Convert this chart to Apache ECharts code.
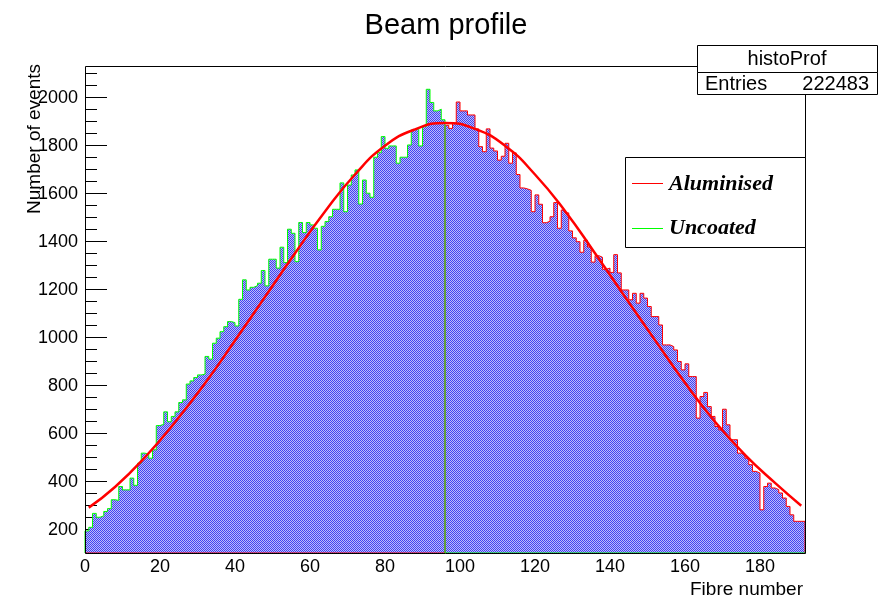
<!DOCTYPE html>
<html>
<head>
<meta charset="utf-8">
<script src="https://cdn.jsdelivr.net/npm/echarts@6.0.0/dist/echarts.min.js"></script>
<style>
  html, body { margin: 0; padding: 0; background: #fff; }
  #chart { width: 892px; height: 597px; }
</style>
</head>
<body>
<div id="chart"></div>
<script>
// ---- Data ----
// Uncoated fibres: bins 0..95
const uncoated = [
  195, 210, 268, 252, 258, 276, 288, 325, 322, 380,
  366, 366, 415, 385, 477, 519, 514, 498, 533, 634,
  639, 691, 650, 672, 691, 730, 741, 807, 820, 834,
  845, 848, 922, 911, 977, 998, 1025, 1046, 1067, 1063,
  1049, 1160, 1241, 1199, 1210, 1217, 1227, 1280, 1216, 1327,
  1327, 1290, 1377, 1313, 1452, 1435, 1317, 1480, 1438, 1480,
  1470, 1456, 1366, 1464, 1484, 1504, 1535, 1535, 1645, 1525,
  1636, 1678, 1699, 1557, 1657, 1602, 1585, 1752, 1771, 1838,
  1789, 1799, 1799, 1727, 1752, 1752, 1803, 1865, 1872, 1799,
  1879, 2035, 1980, 1945, 1952, 1908
];
// Aluminised fibres: bins 96..191
const aluminised = [
  1885, 1872, 1893, 1982, 1945, 1945, 1928, 1928, 1870, 1796,
  1775, 1870, 1790, 1778, 1740, 1756, 1810, 1727, 1770, 1680,
  1624, 1620, 1614, 1525, 1595, 1556, 1479, 1485, 1504, 1563,
  1456, 1532, 1520, 1445, 1416, 1400, 1356, 1406, 1378, 1315,
  1342, 1335, 1285, 1290, 1272, 1346, 1270, 1199, 1199, 1158,
  1185, 1144, 1185, 1165, 1130, 1088, 1088, 1053, 970, 970,
  963, 949, 901, 866, 891, 838, 838, 665, 755, 772,
  713, 672, 630, 616, 702, 637, 575, 575, 519, 512,
  498, 471, 443, 436, 283, 380, 394, 374, 367, 353,
  332, 297, 262, 235, 235, 235
];
// Fit curve (read at selected fibre numbers)
const fitX = [1, 8, 16, 24, 32, 40, 48, 56, 64, 72, 80, 88, 96, 104, 112, 120, 128, 136, 144, 152, 160, 168, 176, 184, 191];
const fitY = [292, 378, 502, 648, 810, 988, 1170, 1352, 1526, 1680, 1800, 1868, 1895, 1870, 1800, 1680, 1528, 1352, 1170, 990, 812, 650, 512, 395, 300];

const xLabelValues = [0, 20, 40, 60, 80, 100, 120, 140, 160, 180];
const xMinorValues = [5, 10, 15, 25, 30, 35, 45, 50, 55, 65, 70, 75, 85, 90, 95, 105, 110, 115, 125, 130, 135, 145, 150, 155, 165, 170, 175, 185, 190];
const yLabelValues = [200, 400, 600, 800, 1000, 1200, 1400, 1600, 1800, 2000];
const yMinorValues = [150, 250, 300, 350, 450, 500, 550, 650, 700, 750, 850, 900, 950, 1050, 1100, 1150, 1250, 1300, 1350, 1450, 1500, 1550, 1650, 1700, 1750, 1850, 1900, 1950, 2050, 2100];
const entries = '222483';

// ---- Axis ranges ----
const X_MIN = 0, X_MAX = 192;
const Y_MIN = 103, Y_MAX = 2132;

const counts = uncoated.concat(aluminised);
const nU = uncoated.length;

const fillData = counts.map((v, i) => [i, v]);
fillData.push([counts.length, counts[counts.length - 1]]);

const greenData = [[0, Y_MIN]];
const redData = [[0, Y_MIN]];
for (let i = 0; i < counts.length; i++) {
  greenData.push([i, i < nU ? uncoated[i] : Y_MIN]);
  redData.push([i, i >= nU ? aluminised[i - nU] : Y_MIN]);
}
greenData.push([counts.length, Y_MIN]);
redData.push([counts.length, aluminised[aluminised.length - 1]]);
redData.push([counts.length, Y_MIN]);

const fitData = fitX.map((x, i) => [x, fitY[i]]);

// hatch pattern like ROOT fill style
const pat = document.createElement('canvas');
pat.width = 2; pat.height = 2;
const pctx = pat.getContext('2d');
pctx.fillStyle = '#4040f4'; pctx.fillRect(0, 0, 2, 2);
pctx.fillStyle = '#bcbcf8'; pctx.fillRect(1, 0, 1, 1); pctx.fillRect(0, 1, 1, 1);

const FONT = '"Liberation Sans", Arial, Helvetica, sans-serif';
const SERIF = '"Liberation Serif", "Times New Roman", serif';
const GL = 85, GT = 66, GW = 720, GH = 487;

const chart = echarts.init(document.getElementById('chart'), null, { renderer: 'canvas' });
chart.setOption({
  animation: false,
  backgroundColor: '#fff',
  textStyle: { fontFamily: FONT, color: '#000' },
  title: {
    text: 'Beam profile', left: 'center', top: 6,
    textStyle: { fontFamily: FONT, fontSize: 29, fontWeight: 'normal', color: '#000' }
  },
  grid: { left: GL, top: GT, width: GW, height: GH, show: false },
  xAxis: [{
    type: 'value', min: X_MIN, max: X_MAX,
    axisLine: { show: false },
    splitLine: { show: false },
    axisTick: { show: true, inside: true, length: 14, customValues: xLabelValues, lineStyle: { color: '#000', width: 1 } },
    axisLabel: { show: true, customValues: xLabelValues, fontSize: 18, color: '#000', fontFamily: FONT, margin: 5, formatter: v => String(v) }
  }, {
    type: 'value', min: X_MIN, max: X_MAX, position: 'bottom',
    axisLine: { show: false }, splitLine: { show: false },
    axisTick: { show: true, inside: true, length: 7, customValues: xMinorValues, lineStyle: { color: '#000', width: 1 } },
    axisLabel: { show: false }
  }],
  yAxis: [{
    type: 'value', min: Y_MIN, max: Y_MAX,
    axisLine: { show: false },
    splitLine: { show: false },
    axisTick: { show: true, inside: true, length: 22, customValues: yLabelValues, lineStyle: { color: '#000', width: 1 } },
    axisLabel: { show: true, customValues: yLabelValues, fontSize: 18, color: '#000', fontFamily: FONT, margin: 7, formatter: v => String(v) }
  }, {
    type: 'value', min: Y_MIN, max: Y_MAX, position: 'left',
    axisLine: { show: false }, splitLine: { show: false },
    axisTick: { show: true, inside: true, length: 12, customValues: yMinorValues, lineStyle: { color: '#000', width: 1 } },
    axisLabel: { show: false }
  }],
  series: [{
    name: 'histoProf', type: 'line', step: 'end', data: fillData,
    showSymbol: false, symbol: 'none', silent: true,
    lineStyle: { width: 0, opacity: 0 },
    areaStyle: { color: { image: pat, repeat: 'repeat' }, opacity: 1, origin: 'start' },
    z: 1
  }, {
    name: 'Aluminised', type: 'line', step: 'end', data: redData,
    showSymbol: false, symbol: 'none', silent: true,
    lineStyle: { color: '#ff0000', width: 1 }, itemStyle: { color: '#ff0000' },
    z: 3
  }, {
    name: 'Uncoated', type: 'line', step: 'end', data: greenData,
    showSymbol: false, symbol: 'none', silent: true,
    lineStyle: { color: '#00ff00', width: 1 }, itemStyle: { color: '#00ff00' },
    z: 4
  }, {
    name: 'fit', type: 'line', smooth: true, data: fitData,
    showSymbol: false, symbol: 'none', silent: true,
    lineStyle: { color: '#ff0000', width: 2.5 },
    z: 5
  }],
  graphic: [
    // frame
    { type: 'rect', z: 50, silent: true, shape: { x: GL + 0.5, y: GT + 0.5, width: GW, height: GH },
      style: { fill: 'none', stroke: '#000', lineWidth: 1 } },
    // axis titles
    { type: 'text', z: 60, x: 803, y: 590, style: { text: 'Fibre number', font: '19px ' + FONT, fill: '#000', align: 'right', verticalAlign: 'middle' } },
    { type: 'text', z: 60, x: 35, y: 64, rotation: Math.PI / 2,
      style: { text: 'Number of events', font: '19px ' + FONT, fill: '#000', align: 'right', verticalAlign: 'middle' } },
    // stats box
    { type: 'rect', z: 70, silent: true, shape: { x: 697.5, y: 45.5, width: 180, height: 27 }, style: { fill: '#fff', stroke: '#000', lineWidth: 1 } },
    { type: 'rect', z: 70, silent: true, shape: { x: 697.5, y: 72.5, width: 180, height: 22 }, style: { fill: '#fff', stroke: '#000', lineWidth: 1 } },
    { type: 'text', z: 71, x: 787, y: 59, style: { text: 'histoProf', font: '20px ' + FONT, fill: '#000', align: 'center', verticalAlign: 'middle' } },
    { type: 'text', z: 71, x: 705, y: 84, style: { text: 'Entries', font: '20px ' + FONT, fill: '#000', align: 'left', verticalAlign: 'middle' } },
    { type: 'text', z: 71, x: 869, y: 84, style: { text: entries, font: '20px ' + FONT, fill: '#000', align: 'right', verticalAlign: 'middle' } },
    // legend box
    { type: 'rect', z: 70, silent: true, shape: { x: 625.5, y: 157.5, width: 180, height: 90 }, style: { fill: '#fff', stroke: '#000', lineWidth: 1 } },
    { type: 'line', z: 71, silent: true, shape: { x1: 632, y1: 183.5, x2: 663, y2: 183.5 }, style: { stroke: '#ff0000', lineWidth: 1 } },
    { type: 'line', z: 71, silent: true, shape: { x1: 632, y1: 228.5, x2: 663, y2: 228.5 }, style: { stroke: '#00ff00', lineWidth: 1 } },
    { type: 'text', z: 71, x: 669, y: 184, style: { text: 'Aluminised', font: 'italic bold 22px ' + SERIF, fill: '#000', align: 'left', verticalAlign: 'middle' } },
    { type: 'text', z: 71, x: 669, y: 228, style: { text: 'Uncoated', font: 'italic bold 22px ' + SERIF, fill: '#000', align: 'left', verticalAlign: 'middle' } }
  ]
});
</script>
</body>
</html>
